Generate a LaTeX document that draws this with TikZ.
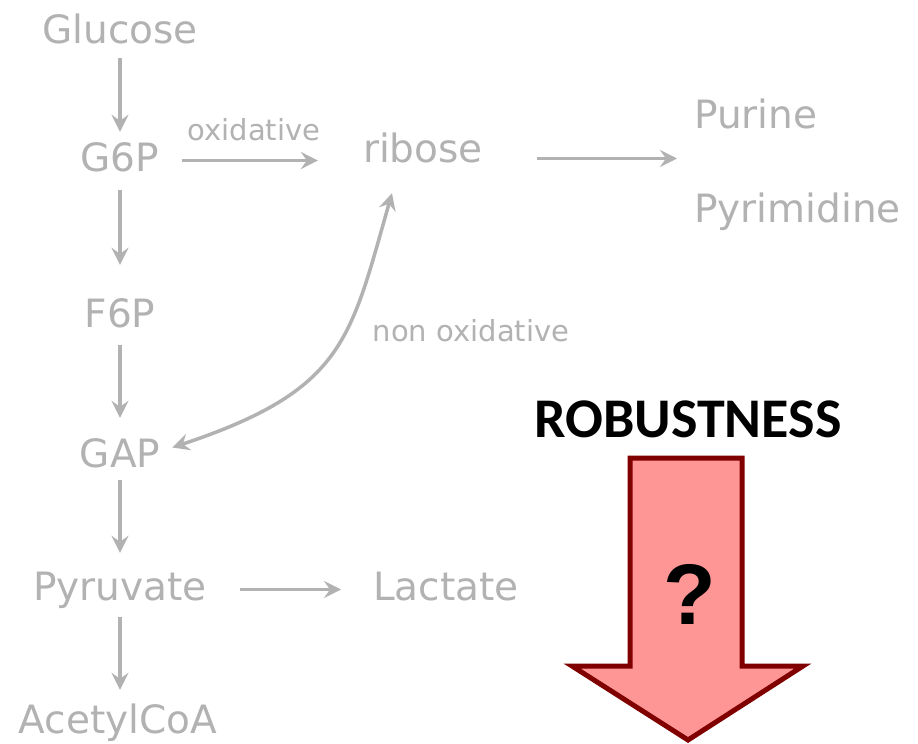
\documentclass[tikz,border=0pt]{standalone}
\usepackage{fontspec}
\setmainfont{DejaVu Sans}
\newfontfamily\robfont{Carlito}
\newfontfamily\qfont{Liberation Sans}
\usetikzlibrary{arrows.meta,calc}
\definecolor{faint}{RGB}{178,178,178}
\definecolor{darkred}{RGB}{128,0,0}
\definecolor{pinkfill}{RGB}{255,150,150}
\begin{document}
\begin{tikzpicture}[x=1pt,y=-1pt,
  met/.style={anchor=base, inner sep=0pt, text height=29pt, text depth=8pt,
    font=\fontsize{39}{41}\selectfont, text=faint},
  lab/.style={anchor=base, inner sep=0pt, font=\fontsize{29}{31}\selectfont, text=faint},
  mytip/.tip={Stealth[length=17pt,width=17pt,inset=6pt]},
  flow/.style={draw=faint, line width=3.5pt, -{mytip}},
]
\fill[white] (0,0) rectangle (918,744);
\useasboundingbox (0,0) rectangle (918,744);

\node[met] (glc) at (120,43) {Glucose};
\node[met] (g6p) at (120,171) {G6P};
\node[met] (f6p) at (120,327) {F6P};
\node[met] (gap) at (120,467) {GAP};
\node[met] (pyv) at (120,600) {Pyruvate};
\node[met] (aco) at (118,733) {AcetylCoA};
\node[met] (rib) at (423,162) {ribose};
\node[met, anchor=base west] (pur) at (694,128) {Purine};
\node[met, anchor=base west] (pyr) at (694,222) {Pyrimidine};
\node[met] (lac) at (446,600) {Lactate};
\node[lab] (oxl) at (254,140) {oxidative};
\node[lab] (noxl) at (471,341) {non oxidative};

\coordinate (pp) at ($(pur.west)!0.5!(pyr.west)+(0,-6)$);

\draw[flow, shorten <=7pt, shorten >=10pt] (glc.south) -- (g6p.north);
\draw[flow, shorten <=11pt, shorten >=33pt] (g6p.south) -- (f6p.north);
\draw[flow, shorten <=10pt, shorten >=20pt] (f6p.south) -- (gap.north);
\draw[flow, shorten <=5pt, shorten >=18pt] (gap.south) -- (pyv.north);
\draw[flow, shorten <=9pt, shorten >=14pt] (pyv.south) -- (pyv.south |- aco.north);

\draw[flow, shorten <=23pt, shorten >=45pt] (g6p.east) -- (g6p.east -| rib.west);
\draw[flow, shorten <=54pt, shorten >=17pt] (rib.east |- pp) -- (pp);
\draw[flow, shorten <=33pt, shorten >=32pt] (pyv.east) -- (pyv.east -| lac.west);

\draw[draw=faint, line width=3.5pt, {mytip}-{mytip}]
  ([shift={(-31,23)}]rib.south) .. controls (350,340) and (345,390) .. ([shift={(12,-9)}]gap.east);

\node[anchor=base, inner sep=0pt, font=\robfont\bfseries\fontsize{56}{58}\selectfont] (rob) at (688,437) {ROBUSTNESS};

\draw[draw=darkred, fill=pinkfill, line width=5pt]
  (630,458) -- (742,458) -- (742,666) -- (803,666) -- (688,740) -- (572,666) -- (630,666) -- cycle;
\node[inner sep=0pt, font=\qfont\bfseries\fontsize{86}{86}\selectfont] (q) at (690,594) {?};
\end{tikzpicture}
\end{document}
